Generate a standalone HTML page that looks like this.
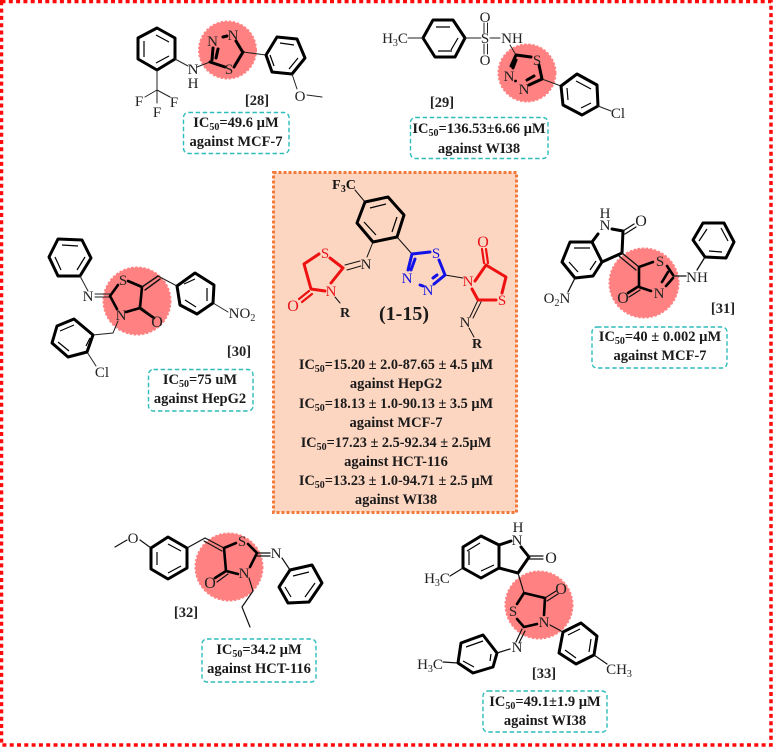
<!DOCTYPE html>
<html><head><meta charset="utf-8"><style>
html,body{margin:0;padding:0;background:#fff}
svg{display:block}
text{font-family:"Liberation Serif",serif;fill:#222;text-anchor:middle}
.a{font-size:15px}
.b{font-size:14.5px;font-weight:bold;fill:#1a1a1a}
.l{font-size:14.5px;font-weight:bold;fill:#222}
.s{font-size:10px}
.r{fill:#e8141c}.u{fill:#1414e0}
.t{fill:none;stroke:#000;stroke-width:3;stroke-linejoin:round;stroke-linecap:round}
.n{fill:none;stroke:#222;stroke-width:1;stroke-linecap:round}
.m{fill:none;stroke:#000;stroke-width:1.2}
.c{fill:#ff8181;stroke:#ff8181;stroke-width:2;stroke-dasharray:2.5 1.6}
.x{fill:#fff;stroke:#2fbcbc;stroke-width:1.4;stroke-dasharray:4.5 2.6}
.rt{fill:none;stroke:#ee1111;stroke-width:3;stroke-linejoin:round;stroke-linecap:round}
.bt{fill:none;stroke:#1212e8;stroke-width:3;stroke-linecap:round}
</style></head><body>
<svg width="773" height="747" viewBox="0 0 773 747" xmlns="http://www.w3.org/2000/svg">
<rect width="773" height="747" fill="#fff"/>
<rect x="1.5" y="1.5" width="769.5" height="743.5" fill="none" stroke="#ff0a0a" stroke-width="3.5" stroke-dasharray="4 3.3"/>

<!-- circles -->
<circle class="c" cx="227.5" cy="50" r="28.5"/>
<circle class="c" cx="527" cy="73" r="28.5"/>
<circle class="c" cx="137" cy="301" r="33.5"/>
<circle class="c" cx="644" cy="283" r="34.5"/>
<circle class="c" cx="229" cy="567" r="33.5"/>
<circle class="c" cx="539" cy="605" r="33.5"/>

<!-- central box -->
<rect x="273.5" y="172.5" width="243" height="340" fill="#fdd6c2" stroke="#f27a3a" stroke-width="3" stroke-dasharray="3 2"/>

<!-- 28 -->
<polygon class="t" points="157,28 175,38 175,59 157,70 138,59 138,38"/>
<path class="m" d="M156,35 169,42M144,41V57M156,63 169,56"/>
<path class="n" d="M175,59 188,66M197,67 210,62M157,70V90M157,90 145,97M157,90 170,97M157,90V103M243,52 266,55"/>
<path class="t" d="M210,62 225,67M234,67 243,52M213,48 212,60M216,58 218,49M223,37 227,36M236,41 242,51"/>
<polygon class="t" points="277,37 297,39 305,58 292,74 272,72 266,55"/>
<path class="m" d="M280,43 294,45M298,58 289,69M274,66 270,55"/>
<path class="n" d="M292,74 297,89M307,95 322,97"/>
<text class="a" x="193" y="74">N</text><text class="a" x="193" y="88">H</text>
<text class="a" x="139" y="106">F</text><text class="a" x="174" y="107">F</text><text class="a" x="157" y="117">F</text>
<text class="a" x="212.5" y="46">N</text><text class="a" x="233" y="40">N</text><text class="a" x="229" y="74">S</text>
<text class="a" x="300" y="101">O</text>
<text class="l" x="257" y="105">[28]</text>
<rect class="x" x="183.5" y="112.5" width="105.5" height="41" rx="5"/>
<text class="b" x="236" y="127">IC<tspan class="s" dy="3">50</tspan><tspan dy="-3">=49.6 µM</tspan></text>
<text class="b" x="236" y="146">against MCF-7</text>

<!-- 29 -->
<polygon class="t" points="433,20 453,20 465,38 455,57 435,57 423,38"/>
<path class="m" d="M436,27 450,27M458,38 451,50M438,51 452,51"/>
<path class="n" d="M408,38H423M465,38H481M490,38H500M484,23V33M487.5,23V33M484,44V54M487.5,44V54M510,45 516,55M542,79 561,86"/>
<text class="a" x="395" y="43">H<tspan class="s" dy="3">3</tspan><tspan dy="-3">C</tspan></text>
<text class="a" x="485" y="43">S</text><text class="a" x="485" y="22">O</text><text class="a" x="485" y="65">O</text>
<text class="a" x="512" y="43">NH</text>
<path class="t" d="M516,55 531,57M539,65 542,79M542,79 529,85M511,66 516,55M516,60 513,68M527,80 534,76"/>
<circle cx="515.5" cy="81" r="1.4" fill="#000"/>
<text class="a" x="537" y="65">S</text><text class="a" x="524" y="94">N</text><text class="a" x="509" y="81">N</text>
<polygon class="t" points="577,74 597,85 598,106 582,115 563,105 561,86"/>
<path class="m" d="M576,81 591,89M591,103 581,108M568,100 567,88"/>
<path class="n" d="M598,106 611,111"/>
<text class="a" x="618" y="118">Cl</text>
<text class="l" x="442" y="107">[29]</text>
<rect class="x" x="410.5" y="117.5" width="137.5" height="41" rx="5"/>
<text class="b" x="479" y="133">IC<tspan class="s" dy="3">50</tspan><tspan dy="-3">=136.53±6.66 µM</tspan></text>
<text class="b" x="479" y="153">against WI38</text>

<!-- central molecule -->
<text class="b" x="344" y="189" style="font-size:14px;fill:#111">F<tspan class="s" dy="3">3</tspan><tspan dy="-3">C</tspan></text>
<path class="n" d="M355,190 365,202M373,242 367,257M397,237 412,254M445,275 463,278M345,265 360,261M347,270 361,266M335,297 340,303M478,300 470,317M481,302 473,318M469,328 474,337" style="stroke:#111"/>
<polygon class="t" points="365,202 388,197 404,215 397,237 373,242 357,223"/>
<path class="m" d="M370,208 386,204M397,217 392,232M376,235 364,222"/>
<path class="rt" d="M343,268 331,283M343,268 330,258M319,254 304,264 311,289 325,291"/>
<path class="rt" d="M309,291 299,299M312,294 302,302" style="stroke-width:2.2"/>
<path class="rt" d="M475,281 486,265 506,277 502,293M496,300 478,300 472,289"/>
<path class="rt" d="M484,263 482,249M488,263 486,249" style="stroke-width:2.2"/>
<path class="bt" d="M412,254 430,252M439,260 445,275 434,284M412,254 408,270M415,259 411,270M420,285 423,286M433,278 437,275"/>
<text class="a r" x="325" y="258">S</text><text class="a r" x="331" y="296">N</text><text class="a r" x="293" y="311" style="font-size:16px">O</text>
<text class="a" x="366" y="269">N</text>
<text class="b" x="345" y="317" style="font-size:14px">R</text>
<text class="a u" x="436" y="258">S</text><text class="a u" x="407" y="283">N</text><text class="a u" x="428" y="295">N</text>
<text class="a r" x="468" y="286">N</text><text class="a r" x="502" y="305">S</text><text class="a r" x="483" y="247" style="font-size:16px">O</text>
<text class="a" x="465" y="327">N</text>
<text class="b" x="477" y="348" style="font-size:14px">R</text>
<text class="b" x="404" y="320" style="font-size:20px">(1-15)</text>
<text class="b" x="396" y="369" style="font-size:14.3px">IC<tspan class="s" dy="3">50</tspan><tspan dy="-3">=15.20 ± 2.0-87.65 ± 4.5 µM</tspan></text>
<text class="b" x="396" y="388">against HepG2</text>
<text class="b" x="396" y="408" style="font-size:14.3px">IC<tspan class="s" dy="3">50</tspan><tspan dy="-3">=18.13 ± 1.0-90.13 ± 3.5 µM</tspan></text>
<text class="b" x="396" y="427">against MCF-7</text>
<text class="b" x="396" y="447" style="font-size:14.3px">IC<tspan class="s" dy="3">50</tspan><tspan dy="-3">=17.23 ± 2.5-92.34 ± 2.5µM</tspan></text>
<text class="b" x="396" y="466">against HCT-116</text>
<text class="b" x="396" y="485" style="font-size:14.3px">IC<tspan class="s" dy="3">50</tspan><tspan dy="-3">=13.23 ± 1.0-94.71 ± 2.5 µM</tspan></text>
<text class="b" x="396" y="504">against WI38</text>

<!-- 30 -->
<polygon class="t" points="58,239 82,240 91,258 80,276 58,276 49,257"/>
<path class="m" d="M62,245 78,246M85,257 77,270M61,270 55,257"/>
<path class="n" d="M80,276 88,291M95,294 110,294M95,297 110,297M118,321 113,333 93,335M87,352 96,366M213,303 228,312M177,286 158,276"/>
<path class="t" d="M110,296 118,285M128,281 142,287 140,308 126,312M110,296 117,309M141,309 154,318" style="stroke-width:2.6"/>
<path class="n" d="M142,287 158,276M145,290 160,279M139,306 152,316" style="stroke-width:1.4;stroke:#111"/>
<text class="a" x="88" y="301">N</text><text class="a" x="123" y="285">S</text><text class="a" x="121" y="320">N</text><text class="a" x="157" y="327" style="font-size:16px">O</text>
<polygon class="t" points="177,286 195,273 214,285 213,303 197,314 180,305"/>
<path class="m" d="M184,284 195,279M207,288 207,301M185,300 196,307"/>
<text class="a" x="242" y="318">NO<tspan class="s" dy="3">2</tspan></text>
<polygon class="t" points="93,335 74,319 57,326 52,343 68,357 87,352"/>
<path class="m" d="M74,325 60,331M58,342 69,351M86,346 90,338"/>
<text class="a" x="102" y="377">Cl</text>
<text class="l" x="239" y="356">[30]</text>
<rect class="x" x="148.5" y="369.5" width="104.5" height="41.5" rx="5"/>
<text class="b" x="200" y="384">IC<tspan class="s" dy="3">50</tspan><tspan dy="-3">=75 uM</tspan></text>
<text class="b" x="200" y="403">against HepG2</text>

<!-- 31 -->
<path class="t" d="M612,229 623,231 622,253 602,262M598,234 592,242"/>
<polygon class="t" points="592,242 570,242 562,262 575,278 593,276 602,262"/>
<path class="m" d="M590,248 574,248M569,262 578,272M590,270 596,261"/>
<path class="n" d="M623,231 634,224M625,234 636,227M575,278 568,292M673,276 686,276M697,270 705,257M622,253 639,267M619,256 636,270M640,290 629,297" style="stroke:#111;stroke-width:1.3"/>
<path class="t" d="M639,267 653,262M667,266 673,275M639,267 639,287 651,291M673,278 666,286M668,272 662,282M639,286 628,293" style="stroke-width:2.6"/>
<text class="a" x="605" y="230">N</text><text class="a" x="605" y="218">H</text><text class="a" x="641" y="226" style="font-size:16px">O</text>
<text class="a" x="660" y="266">S</text><text class="a" x="659" y="298">N</text><text class="a" x="623" y="303" style="font-size:16px">O</text>
<text class="a" x="697" y="282">NH</text>
<text class="a" x="557" y="303">O<tspan class="s" dy="3">2</tspan><tspan dy="-3">N</tspan></text>
<polygon class="t" points="705,257 726,258 734,242 724,223 703,223 693,240"/>
<path class="m" d="M709,251 722,252M728,241 721,228M707,229 699,241"/>
<text class="l" x="723" y="313">[31]</text>
<rect class="x" x="592" y="327" width="135" height="41" rx="5"/>
<text class="b" x="660" y="341">IC<tspan class="s" dy="3">50</tspan><tspan dy="-3">=40 ± 0.002 µM</tspan></text>
<text class="b" x="660" y="360">against MCF-7</text>

<!-- 32 -->
<path class="n" d="M115,547 127,540M140,540 151,548M187,548 205,538M282,558 290,570M249,578 253,591 242,607 250,627M205,538 224,548M204,541 222,551M257,553 270,553M257,556 270,556M228,574 217,582" style="stroke:#111;stroke-width:1.2"/>
<polygon class="t" points="151,548 168,537 187,548 187,568 168,579 151,569"/>
<path class="m" d="M168,544 181,551M181,566 168,573M157,565V552"/>
<path class="t" d="M224,548 236,543M224,548 226,571 238,574M248,544 257,553 250,567M226,571 215,578" style="stroke-width:2.6"/>
<text class="a" x="133" y="543">O</text><text class="a" x="242" y="546">S</text><text class="a" x="244" y="578">N</text><text class="a" x="210" y="588" style="font-size:16px">O</text><text class="a" x="276" y="558">N</text>
<polygon class="t" points="290,570 312,565 322,583 309,602 288,603 279,587"/>
<path class="m" d="M293,576 309,572M315,583 305,597M291,597 285,587"/>
<text class="l" x="186" y="617">[32]</text>
<rect class="x" x="202" y="639" width="114" height="43" rx="5"/>
<text class="b" x="259" y="654">IC<tspan class="s" dy="3">50</tspan><tspan dy="-3">=34.2 µM</tspan></text>
<text class="b" x="259" y="673">against HCT-116</text>

<!-- 33 -->
<path class="t" d="M499,545 511,541M521,547 529,557 518,573 499,568"/>
<polygon class="t" points="499,545 481,536 463,547 463,568 481,578 499,568"/>
<path class="m" d="M480,543 467,551M469,565V551M481,571 494,565"/>
<path class="n" d="M529,556 543,556M529,559 543,559M463,568 450,576M518,573 524,593M522,629 516,642M525,631 519,643M510,649 497,653M550,625 563,632M458,663 443,662M594,655 607,664M545,598 556,591M547,601 558,594" style="stroke:#111;stroke-width:1.2"/>
<path class="t" d="M524,593 545,598 544,615M537,624 524,627 517,619M517,604 524,593" style="stroke-width:2.6"/>
<text class="a" x="517" y="545">N</text><text class="a" x="518" y="532">H</text><text class="a" x="551" y="563" style="font-size:16px">O</text>
<text class="a" x="561" y="594" style="font-size:16px">O</text><text class="a" x="544" y="627">N</text><text class="a" x="513" y="616">S</text><text class="a" x="517" y="652">N</text>
<text class="a" x="437" y="583">H<tspan class="s" dy="3">3</tspan><tspan dy="-3">C</tspan></text>
<polygon class="t" points="497,653 483,635 461,643 458,663 473,673 493,667"/>
<path class="m" d="M483,641 466,647M463,661 474,667M490,661 491,654"/>
<text class="a" x="430" y="669">H<tspan class="s" dy="3">3</tspan><tspan dy="-3">C</tspan></text>
<polygon class="t" points="563,632 581,623 597,636 594,655 576,664 559,653"/>
<path class="m" d="M568,635 580,629M591,639 589,652M576,658 565,650"/>
<text class="a" x="619" y="674">CH<tspan class="s" dy="3">3</tspan></text>
<text class="l" x="544" y="678">[33]</text>
<rect class="x" x="483" y="691" width="124" height="41" rx="5"/>
<text class="b" x="545" y="706">IC<tspan class="s" dy="3">50</tspan><tspan dy="-3">=49.1±1.9 µM</tspan></text>
<text class="b" x="545" y="725">against WI38</text>
</svg>
</body></html>
